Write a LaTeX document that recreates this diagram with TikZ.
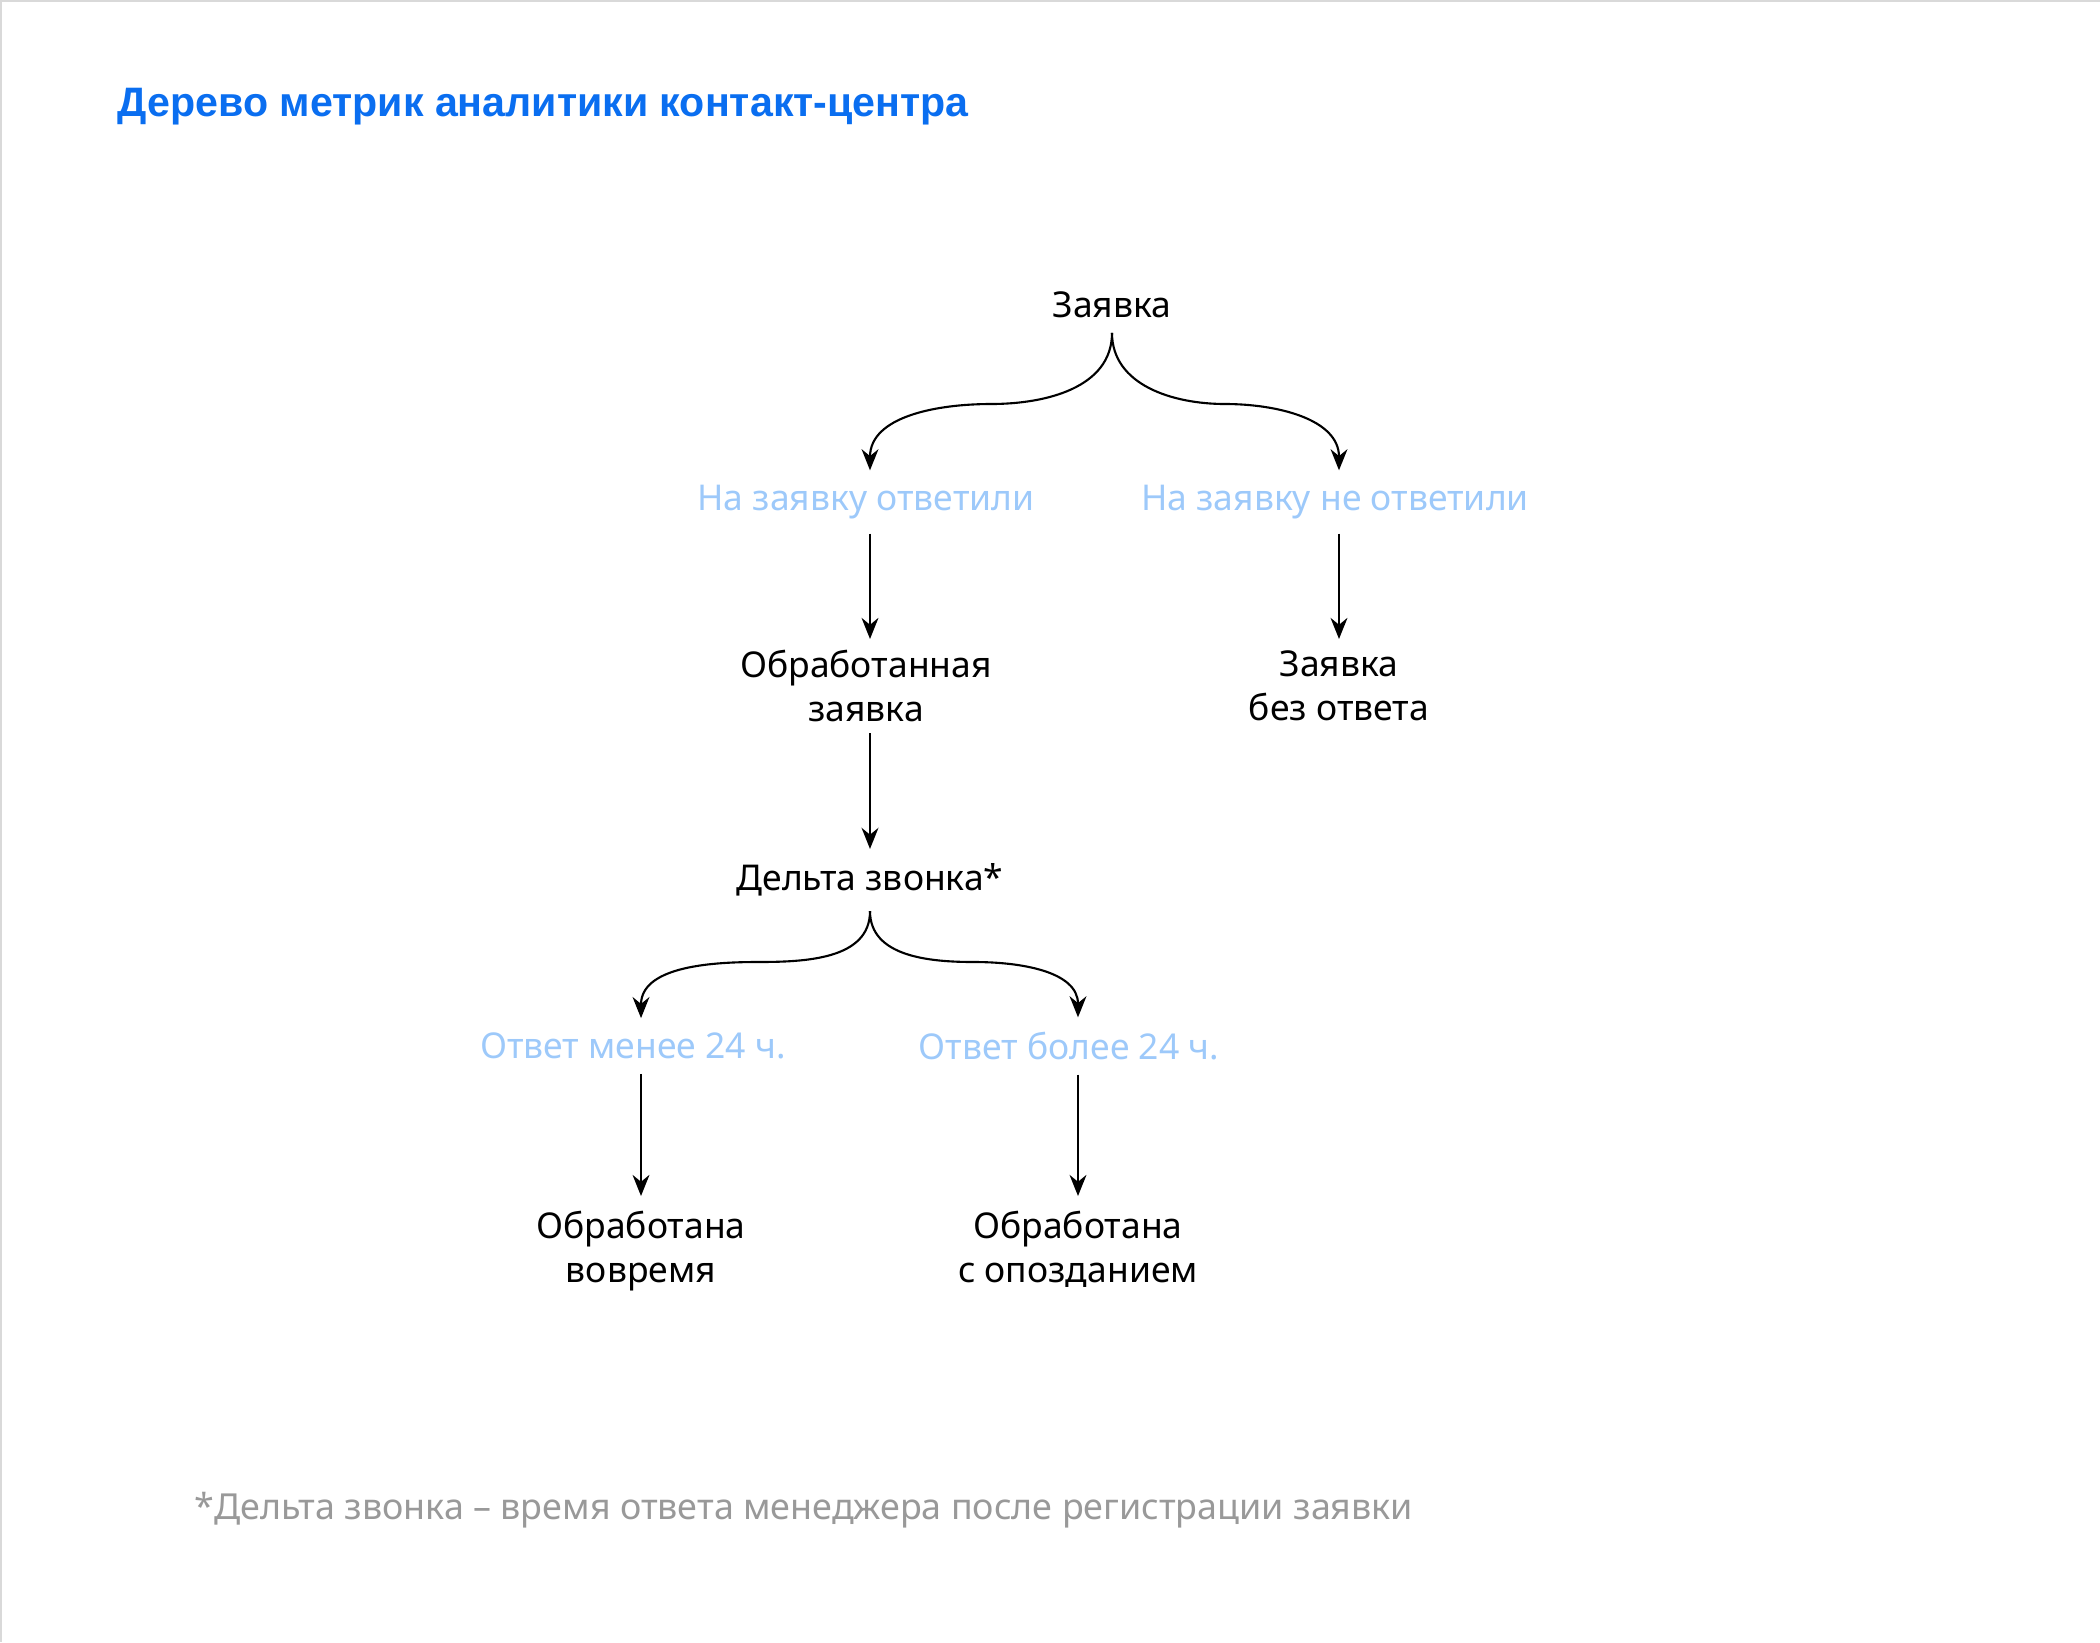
\documentclass[tikz,border=0pt]{standalone}
\usepackage{fontspec}
\setmainfont{Noto Sans}
\newfontfamily\titlefont{Liberation Sans}
\usepackage{tikz}
\usetikzlibrary{arrows.meta}

\definecolor{titleblue}{HTML}{0A6EF0}
\definecolor{lightblue}{HTML}{9DC9FA}
\definecolor{notegray}{HTML}{999999}
\definecolor{framegray}{HTML}{D9D9D9}

\tikzset{
    metric/.style={font=\fontsize{10.1}{12.5}\selectfont, align=center, inner xsep=0pt, inner ysep=4pt},
    branch/.style={metric, text=lightblue},
    arr/.style={-{Stealth[length=6pt,width=4.8pt]}, line width=0.6pt},
}

\begin{document}
\begin{tikzpicture}[x=0.01cm,y=-0.01cm]
                \useasboundingbox (0,0) rectangle (2100,1642);
                \draw[framegray, line width=0.8pt] (0,1) -- (2100,1);
                \draw[framegray, line width=0.8pt] (1,0) -- (1,1642);

                \node[anchor=west, inner sep=0pt, text=titleblue, font=\fontsize{11.7}{14}\selectfont\titlefont\bfseries] (title) at (117,107) {Дерево метрик аналитики контакт-центра};

                \node[metric] (request) at (1112,305) {Заявка};
                \node[branch] (answered) at (866,502) {На заявку ответили};
                \node[branch] (unanswered) at (1335,502) {На заявку не ответили};
                \node[metric, anchor=north, inner ysep=3pt] (processed) at (866,639) {Обработанная\\заявка};
                \node[metric, anchor=north, inner ysep=3pt] (noanswer) at (1339,639) {Заявка\\без ответа};
                \node[metric] (delta) at (870,880) {Дельта звонка*};
                \node[branch] (fast) at (633,1046) {Ответ менее 24 ч.};
                \node[branch] (slow) at (1069,1046) {Ответ более 24 ч.};
                \node[metric, anchor=north] (ontime) at (641,1196) {Обработана\\вовремя};
                \node[metric, anchor=north] (late) at (1078,1196) {Обработана\\с опозданием};

                \node[anchor=west, inner sep=0pt, text=notegray, font=\fontsize{10.2}{12}\selectfont] (note) at (194,1510) {*Дельта звонка – время ответа менеджера после регистрации заявки};

                \coordinate (splitL) at (991,404);
                \coordinate (splitR) at (1225,404);
                \coordinate (deltaL) at (757,962);
                \coordinate (deltaR) at (974,962);

                \draw[arr] (request.south) to[out=-90,in=0] (splitL) to[out=180,in=90] (answered.north -| delta.north);
                \draw[arr] (request.south) to[out=-90,in=180] (splitR) to[out=0,in=90] (unanswered.north -| noanswer.north);
                \draw[arr] (answered.south -| delta.north) -- (processed.north -| delta.north);
                \draw[arr] (unanswered.south -| noanswer.north) -- (noanswer.north);
                \draw[arr] (processed.south -| delta.south) -- (delta.north);
                \draw[arr] (delta.south) to[out=-90,in=0] (deltaL) to[out=180,in=90] (fast.north -| ontime.north);
                \draw[arr] (delta.south) to[out=-90,in=180] (deltaR) to[out=0,in=90] (slow.north -| late.north);
                \draw[arr] (fast.south -| ontime.north) -- (ontime.north);
                \draw[arr] (slow.south -| late.north) -- (late.north);
            \end{tikzpicture}
\end{document}
